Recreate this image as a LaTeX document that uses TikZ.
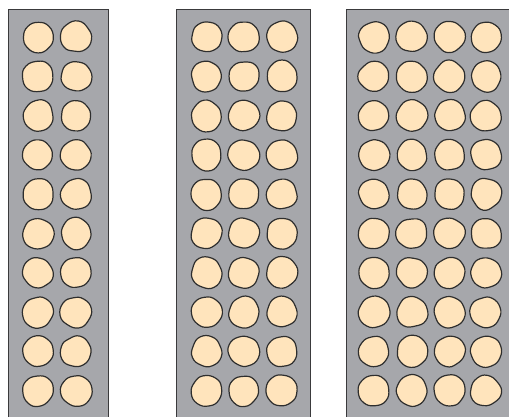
\documentclass[tikz,border=0pt]{standalone}
\begin{document}
\begin{tikzpicture}[x=1pt,y=-1pt,
  tray/.style={fill=trayfill,draw=traydraw,line width=1pt},
  blob/.style={fill=blobfill,draw=blobdraw,line width=1.2pt}]
\definecolor{trayfill}{HTML}{A6A7AB}
\definecolor{traydraw}{HTML}{3A3A3C}
\definecolor{blobfill}{HTML}{FFE4BC}
\definecolor{blobdraw}{HTML}{2E2E2E}
\useasboundingbox (0,0) rectangle (509,416);
\pgfmathsetseed{7}
% trays (bottom and right run off the picture)
\draw[tray] (8,430) -- (8,9) -- (108.5,9) -- (108.5,430);
\draw[tray] (176,430) -- (176,9) -- (310,9) -- (310,430);
\draw[tray] (346,430) -- (346,9) -- (520,9);
\fill[trayfill] (346.5,9.5) rectangle (520,430);
% blobs
\foreach \cx in {38,76, 206.5,244,282, 374,412,449.5,486}{
  \foreach \r in {0,...,9}{
    \pgfmathsetmacro{\cy}{37+39.3*\r}
    \begin{scope}[shift={(\cx,\cy)}]
      \pgfmathsetmacro{\rot}{360*rnd}
      \draw[blob,rotate=\rot] plot[smooth cycle,tension=0.8,domain=0:315,samples=8]
        ({\x}:{14.2+2.2*rnd});
    \end{scope}
  }
}
\end{tikzpicture}
\end{document}
